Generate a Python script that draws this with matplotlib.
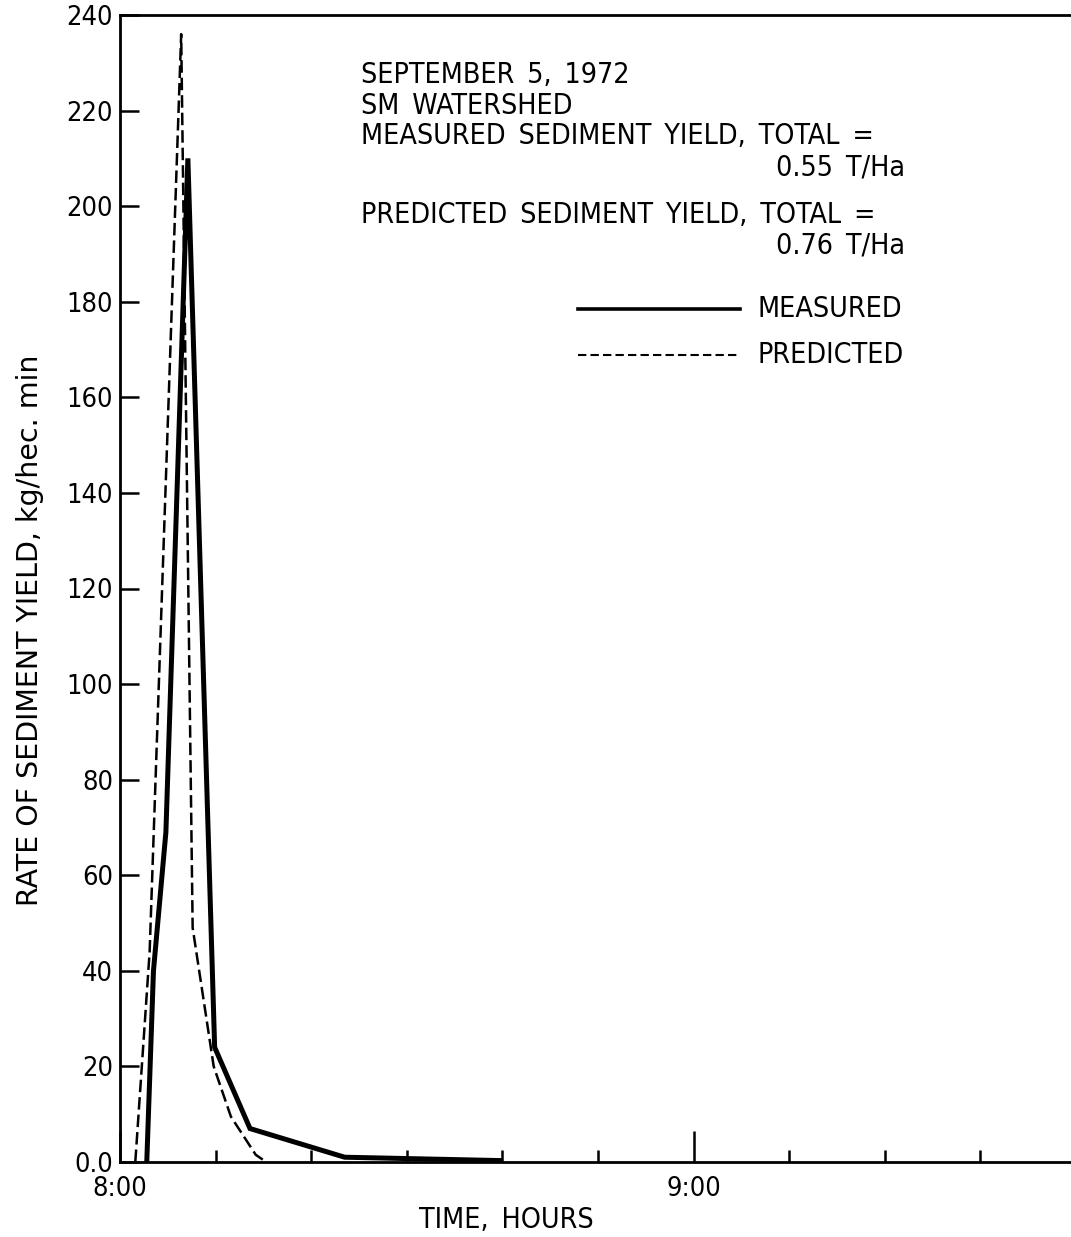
import matplotlib
matplotlib.use("Agg")
import matplotlib.pyplot as plt
import numpy as np

# storm of Sept 5 1972, minutes after 8:00
meas_t = [2.8, 3.5, 4.8, 7.1, 9.9, 13.6, 23.5, 39.7]
meas_q = [0.0, 40.0, 69.0, 210.0, 24.0, 7.0, 1.0, 0.3]
pred_t = [1.6, 3.1, 6.4, 7.6, 9.8, 11.6, 14.2, 15.3]
pred_q = [0.0, 44.0, 236.0, 49.0, 20.0, 9.5, 1.5, 0.0]

y_ticks = [0, 20, 40, 60, 80, 100, 120, 140, 160, 180, 200, 220, 240]
y_labels = ["0.0"] + [str(v) for v in y_ticks[1:]]
hour_ticks = [0, 60]
hour_labels = ["8:00", "9:00"]
minor_ticks = [10, 20, 30, 40, 50, 70, 80, 90]

notes = ["SEPTEMBER 5, 1972", "SM WATERSHED", "MEASURED SEDIMENT YIELD, TOTAL ="]
meas_total = "0.55 T/Ha"
pred_line = "PREDICTED SEDIMENT YIELD, TOTAL ="
pred_total = "0.76 T/Ha"

SP = "\u2002"  # wider word gap, typewriter look


def wide(s):
    return s.replace(" ", SP)


W, H = 1071, 1237
fig = plt.figure(figsize=(W / 100, H / 100), dpi=100)
plt.rcParams['font.family'] = ['DejaVu Sans']
plt.rcParams['font.stretch'] = 'condensed'
fs = 20.5

x0, x1, y0, y1 = 120, 1071, 1162, 15
ax = fig.add_axes([x0 / W, 1 - y0 / H, (x1 - x0) / W, (y0 - y1) / H])
ax.set_xlim(0, (x1 - x0) / 9.56)
ax.set_ylim(0, 240)

ax.plot(meas_t, meas_q, color="black", lw=3.6, solid_joinstyle="miter")
ax.plot(pred_t, pred_q, color="black", lw=1.8, dashes=(5, 2))

for s in ["left", "top", "bottom"]:
    ax.spines[s].set_linewidth(2.0)
ax.spines["right"].set_visible(False)

ax.set_yticks(y_ticks)
ax.set_yticklabels(y_labels, fontsize=19.5)
ax.tick_params(axis="y", direction="in", length=14, width=1.8, pad=5)
ax.get_yticklabels()[0].set_va("center_baseline")

ax.set_xticks(hour_ticks)
ax.set_xticklabels(hour_labels, fontsize=19.5)
ax.set_xticks(minor_ticks, minor=True)
ax.tick_params(axis="x", which="major", direction="in", length=22, width=1.8, pad=10)
ax.tick_params(axis="x", which="minor", direction="in", length=9, width=1.8)

fig.text(506 / W, 1 - 1220 / H, wide("TIME, HOURS"), fontsize=fs, ha="center", va="center")
fig.text(30 / W, 1 - 630 / H, "RATE OF SEDIMENT YIELD, kg/hec. min", fontsize=20.5,
         fontstretch="normal", rotation=90, ha="center", va="center")

# notes block
ys = [75, 106, 136]
for txt, yy in zip(notes, ys):
    fig.text(361 / W, 1 - yy / H, wide(txt), fontsize=fs, va="center", ha="left")
fig.text(905 / W, 1 - 167 / H, wide(meas_total), fontsize=fs, va="center", ha="right")
fig.text(361 / W, 1 - 215 / H, wide(pred_line), fontsize=fs, va="center", ha="left")
fig.text(905 / W, 1 - 245 / H, wide(pred_total), fontsize=fs, va="center", ha="right")

# key
fig.add_artist(plt.Line2D([578 / W, 740 / W], [1 - 309 / H] * 2, color="black", lw=2.6))
fig.add_artist(plt.Line2D([578 / W, 740 / W], [1 - 355 / H] * 2, color="black", lw=1.5, dashes=(4, 2)))
fig.text(757 / W, 1 - 309 / H, "MEASURED", fontsize=fs, va="center", ha="left")
fig.text(757 / W, 1 - 355 / H, "PREDICTED", fontsize=fs, va="center", ha="left")

fig.savefig("out.png", dpi=100)
